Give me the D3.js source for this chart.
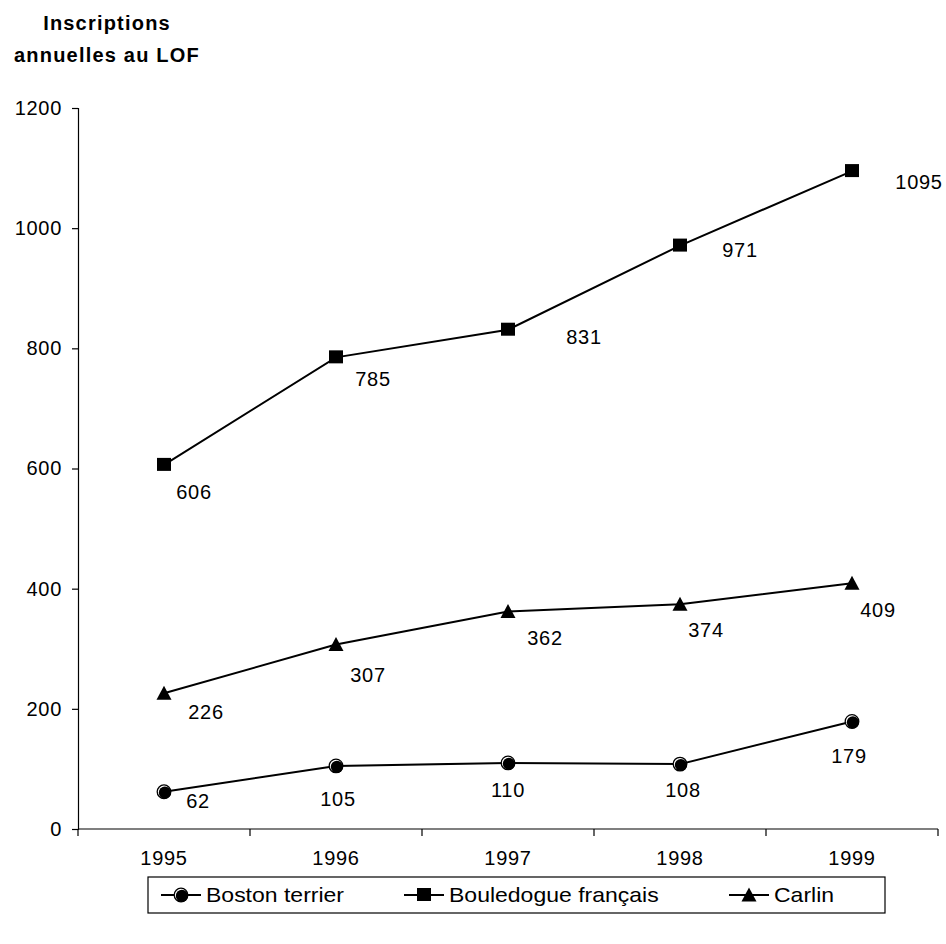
<!DOCTYPE html>
<html>
<head>
<meta charset="utf-8">
<script src="https://cdn.jsdelivr.net/npm/d3@7"></script>
<style>
  html, body { margin: 0; padding: 0; background: #fff; }
  svg { display: block; }
  text { font-family: "Liberation Sans", Arial, sans-serif; fill: #000; }
</style>
</head>
<body>
<svg id="chart" width="946" height="944"></svg>
<script>
// Annual LOF registrations per breed
const years = ["1995", "1996", "1997", "1998", "1999"];
const bostonTerrier = [62, 105, 110, 108, 179];
const bouledogueFrancais = [606, 785, 831, 971, 1095];
const carlin = [226, 307, 362, 374, 409];
const yTicks = [0, 200, 400, 600, 800, 1000, 1200];
const seriesNames = ["Boston terrier", "Bouledogue français", "Carlin"];

// Where each value label sits relative to its marker (dx, dy in px)
const labelOffsets = {
  "Boston terrier": [[34, 9], [2, 33], [0, 27], [3, 26], [-3, 35]],
  "Bouledogue français": [[30, 27], [37, 22], [76, 7], [60, 4], [67, 11]],
  "Carlin": [[42, 19], [32, 30], [37, 27], [26, 26], [26, 27]]
};

const series = [
  { name: seriesNames[0], values: bostonTerrier, marker: "sphere" },
  { name: seriesNames[1], values: bouledogueFrancais, marker: "square" },
  { name: seriesNames[2], values: carlin, marker: "triangle" }
];

const svg = d3.select("#chart");
const plotLeft = 78, plotRight = 938, plotTop = 108, plotBottom = 829;

const x = d3.scaleBand().domain(years).range([plotLeft, plotRight]).padding(0);
const y = d3.scaleLinear().domain([0, 1200]).range([plotBottom, plotTop]);

const numFont = "20px";
const numSpacing = "0.7px";

// Title
const title = svg.append("text")
  .attr("text-anchor", "middle")
  .style("font-size", "20px")
  .style("font-weight", "bold")
  .style("letter-spacing", "1.2px");
title.append("tspan").attr("x", 107).attr("y", 30).text("Inscriptions");
title.append("tspan").attr("x", 107).attr("y", 62).text("annuelles au LOF");

// Y axis
const yAxis = svg.append("g")
  .attr("transform", `translate(${plotLeft},0)`)
  .call(d3.axisLeft(y).tickValues(yTicks).tickSize(6).tickPadding(10).tickFormat(d3.format("d")));
yAxis.select(".domain").attr("stroke", "#000").attr("stroke-width", 1.2);
yAxis.selectAll(".tick line").attr("stroke", "#000").attr("stroke-width", 1.2);
yAxis.selectAll(".tick text")
  .style("font-size", numFont)
  .style("letter-spacing", numSpacing)
  .style("font-family", "'Liberation Sans', Arial, sans-serif")
  .attr("fill", "#000");

// X axis: ticks at the category boundaries, labels in the middle
const xAxis = svg.append("g").attr("transform", `translate(0,${plotBottom})`);
xAxis.append("line")
  .attr("x1", plotLeft).attr("x2", plotRight)
  .attr("y1", 0).attr("y2", 0)
  .attr("stroke", "#000").attr("stroke-width", 1.2);
const boundaries = years.map(d => x(d)).concat([x(years[years.length - 1]) + x.bandwidth()]);
xAxis.selectAll("line.tick")
  .data(boundaries)
  .join("line")
  .attr("class", "tick")
  .attr("x1", d => d).attr("x2", d => d)
  .attr("y1", 0).attr("y2", 7)
  .attr("stroke", "#000").attr("stroke-width", 1.2);
xAxis.selectAll("text.year")
  .data(years)
  .join("text")
  .attr("class", "year")
  .attr("x", d => x(d) + x.bandwidth() / 2)
  .attr("y", 29)
  .attr("text-anchor", "middle")
  .attr("dominant-baseline", "central")
  .style("font-size", numFont)
  .style("letter-spacing", numSpacing)
  .text(d => d);

// Marker drawing
function drawMarker(g, type) {
  if (type === "square") {
    g.append("rect").attr("x", -7).attr("y", -7).attr("width", 14).attr("height", 13).attr("fill", "#000");
  } else if (type === "triangle") {
    g.append("path").attr("d", "M0,-7.5L7.5,6.5L-7.5,6.5Z").attr("fill", "#000");
  } else {
    g.append("circle").attr("r", 6.8).attr("fill", "#fff").attr("stroke", "#000").attr("stroke-width", 1.3);
    g.append("circle").attr("cx", 0.9).attr("cy", 0.9).attr("r", 6.1).attr("fill", "#000");
  }
}

const line = d3.line()
  .x((d, i) => x(years[i]) + x.bandwidth() / 2)
  .y(d => y(d));

series.forEach(s => {
  const g = svg.append("g");
  g.append("path")
    .attr("d", line(s.values))
    .attr("fill", "none")
    .attr("stroke", "#000")
    .attr("stroke-width", 2);
  s.values.forEach((v, i) => {
    const cx = x(years[i]) + x.bandwidth() / 2;
    const cy = y(v);
    const m = g.append("g").attr("transform", `translate(${cx},${cy})`);
    drawMarker(m, s.marker);
    const off = labelOffsets[s.name][i];
    g.append("text")
      .attr("x", cx + off[0])
      .attr("y", cy + off[1])
      .attr("text-anchor", "middle")
      .attr("dominant-baseline", "central")
      .style("font-size", numFont)
      .style("letter-spacing", numSpacing)
      .text(v);
  });
});

// Legend (item text is drawn slightly widened)
const legend = svg.append("g");
const legY = 895;
legend.append("rect")
  .attr("x", 148).attr("y", 877)
  .attr("width", 737).attr("height", 36)
  .attr("fill", "#fff").attr("stroke", "#000").attr("stroke-width", 1.2);
const legendX = [161, 404, 729];
series.forEach((s, i) => {
  const lx = legendX[i];
  legend.append("line")
    .attr("x1", lx).attr("x2", lx + 40)
    .attr("y1", legY).attr("y2", legY)
    .attr("stroke", "#000").attr("stroke-width", 2);
  const m = legend.append("g").attr("transform", `translate(${lx + 20},${legY})`);
  drawMarker(m, s.marker);
  legend.append("text")
    .attr("transform", `translate(${lx + 45},${legY}) scale(1.15,1)`)
    .attr("dominant-baseline", "central")
    .style("font-size", numFont)
    .text(s.name);
});
</script>
</body>
</html>
